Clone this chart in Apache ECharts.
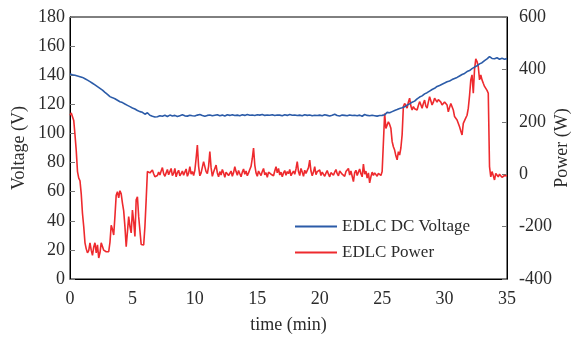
<!DOCTYPE html>
<html>
<head>
<meta charset="utf-8">
<script src="https://cdn.jsdelivr.net/npm/echarts@6/dist/echarts.min.js"></script>
<style>html,body{margin:0;padding:0;background:#fff}#c{width:571px;height:340px}</style>
</head>
<body>
<div id="c"></div>
<script>
// Sampling steps of the recordings (minutes)
const powerStep = 0.1;
const voltageStep = 0.2;
const xTicks = [0, 5, 10, 15, 20, 25, 30, 35];
const leftTicks = [0, 20, 40, 60, 80, 100, 120, 140, 160, 180];
const rightTicks = [-400, -200, 0, 200, 400, 600];
const seriesNames = ['EDLC DC Voltage', 'EDLC Power'];

// EDLC Power (W), every 0.1 min from 0 to 35
const power = [
  225, 234, 228, 205, 150, 90, 10, -15, -25, -75,
  -150, -200, -262, -285, -300, -292, -262, -290, -310, -278,
  -262, -300, -270, -320, -300, -262, -255, -290, -290, -296,
  -296, -296, -260, -195, -210, -232, -160, -80, -67, -90,
  -63, -75, -110, -140, -200, -277, -220, -162, -200, -224,
  -137, -180, -238, -98, -86, -162, -215, -268, -270, -270,
  -200, -98, 10, 8, 5, 5, 16, 2, -10, -8,
  -5, 8, -3, 12, 25, 2, -8, 5, 18, -2,
  10, 22, -5, 3, 22, -10, 6, 15, -6, 2,
  12, -4, 8, 20, -8, 4, 29, 0, 10, -5,
  15, 60, 111, 30, -6, 5, 12, 48, 54, 10,
  2, 30, 86, 25, -8, 8, 3, 35, 5, -10,
  10, -3, 18, 5, -12, 8, 15, -5, 2, 12,
  -8, 6, 29, 10, -4, 14, 2, -10, 8, 20,
  0, 12, -6, 5, 18, 30, 60, 100, 35, 5,
  -8, 12, 3, -5, 10, 22, -2, 6, -12, 8,
  15, 0, 7, -6, 12, 29, 5, 22, -3, 8,
  -10, 5, 14, -4, 10, 2, 18, -6, 4, 12,
  0, 20, 48, 10, -5, 22, 8, -8, 15, 3,
  10, 25, 54, 12, -6, 8, 29, -2, 10, 5,
  16, -5, 8, 12, -8, 4, 14, 0, -10, 6,
  10, -4, 8, 18, 2, -6, 12, 16, 0, 5,
  -8, 10, 4, 22, -3, 12, 10, -28, 6, 15,
  -5, 8, 20, 2, -10, 39, 0, 12, -15, 5,
  -33, -10, 8, -5, 5, 12, -8, 3, 10, -5,
  10, 120, 232, 175, 169, 200, 190, 175, 125, 105,
  92, 70, 55, 86, 73, 100, 150, 258, 270, 262,
  252, 275, 290, 260, 245, 258, 250, 248, 245, 262,
  277, 265, 252, 270, 283, 260, 252, 275, 296, 280,
  264, 275, 290, 283, 275, 285, 283, 275, 264, 270,
  276, 283, 264, 238, 255, 270, 277, 245, 220, 213,
  207, 200, 181, 165, 150, 194, 200, 215, 225, 252,
  300, 360, 379, 309, 400, 440, 430, 410, 360, 379,
  360, 347, 335, 328, 320, 309, 29, -10, 10, -5,
  -22, 3, 5, -10, 0, -3, -12, -16, -5, -10,
  -7
];

// EDLC DC Voltage (V), every 0.2 min from 0 to 35
const voltage = [
  140.8, 140.3, 140.0, 139.5, 139.0, 138.5, 137.6, 136.6, 135.6, 134.5,
  133.4, 132.2, 131.0, 129.8, 128.2, 126.8, 125.3, 124.6, 123.8, 122.8,
  121.8, 121.2, 120.2, 119.3, 118.4, 117.5, 116.8, 115.8, 115.0, 114.5,
  113.2, 114.2, 112.5, 111.8, 111.3, 111.5, 112.2, 111.8, 112.5, 111.6,
  112.6, 112.0, 112.4, 111.6, 112.2, 112.8, 112.1, 111.9, 112.5, 112.2,
  112.0, 112.6, 113.0, 112.3, 111.8, 112.4, 112.7, 112.1, 112.5, 112.9,
  112.2, 112.6, 112.0, 112.8, 112.4, 112.9, 112.3, 112.6, 112.2, 112.8,
  112.4, 113.0, 112.5, 112.7, 112.3, 112.8, 112.6, 113.0, 112.4, 112.7,
  112.5, 112.9, 112.3, 112.7, 112.6, 112.2, 112.8, 112.4, 113.0, 112.5,
  112.7, 112.3, 112.6, 112.2, 112.8, 112.4, 112.7, 112.1, 112.5, 112.3,
  112.6, 112.2, 112.8, 112.4, 112.0, 112.5, 113.2, 112.3, 112.0, 112.6,
  112.4, 112.1, 112.7, 112.3, 112.5, 112.2, 112.6, 111.8, 113.0, 112.4,
  112.1, 112.5, 112.2, 111.9, 112.3, 112.4, 112.8, 114.5, 114.2, 115.0,
  115.8, 116.4, 117.2, 117.6, 118.3, 119.5, 120.3, 121.5, 122.2, 123.8,
  125.0, 125.8, 127.2, 128.0, 129.1, 130.2, 131.0, 132.3, 133.0, 133.8,
  134.6, 135.5, 136.0, 137.0, 137.8, 138.5, 139.5, 140.5, 141.2, 142.5,
  143.2, 144.5, 145.6, 146.5, 147.8, 148.6, 150.0, 151.2, 152.8, 151.5,
  151.3, 152.0, 151.0, 151.6, 151.0, 151.4
];

const font = 'Liberation Serif';
const txt = '#2b2b2b';
const powerData = power.map((v, i) => [+(i * powerStep).toFixed(2), v]);
const voltageData = voltage.map((v, i) => [+(i * voltageStep).toFixed(2), v]);

const chart = echarts.init(document.getElementById('c'), null, {renderer: 'canvas'});
chart.setOption({
  animation: false,
  backgroundColor: '#fff',
  textStyle: {fontFamily: font},
  grid: {left: 70, right: 64, top: 17, bottom: 61, containLabel: false, outerBoundsMode: 'none',
    show: true, borderColor: '#000', borderWidth: 1, backgroundColor: 'transparent'},
  legend: {
    orient: 'vertical', left: 290, top: 213, itemWidth: 42, itemHeight: 2, itemGap: 9,
    icon: 'rect',
    textStyle: {fontFamily: font, fontSize: 17, color: txt},
    data: seriesNames
  },
  xAxis: {
    type: 'value', min: xTicks[0], max: xTicks[xTicks.length - 1], interval: 5,
    name: 'time (min)', nameLocation: 'middle', nameGap: 37, nameMoveOverlap: false,
    nameTextStyle: {fontFamily: font, fontSize: 18, color: txt},
    axisLine: {lineStyle: {color: '#000', width: 1}},
    axisTick: {show: false},
    axisLabel: {fontFamily: font, fontSize: 18, color: txt, margin: 11},
    splitLine: {show: false}
  },
  yAxis: [{
    type: 'value', min: leftTicks[0], max: leftTicks[leftTicks.length - 1], interval: 20,
    name: 'Voltage (V)', nameLocation: 'middle', nameGap: 42, nameRotate: 90, nameMoveOverlap: false,
    nameTextStyle: {fontFamily: font, fontSize: 18, color: txt},
    axisLine: {show: true, lineStyle: {color: '#000', width: 1}},
    axisTick: {show: true, inside: true, length: 5, lineStyle: {color: '#777'}},
    axisLabel: {fontFamily: font, fontSize: 18, color: txt, margin: 5},
    splitLine: {show: false}
  }, {
    type: 'value', position: 'right', min: rightTicks[0], max: rightTicks[rightTicks.length - 1], interval: 200,
    name: 'Power (W)', nameLocation: 'middle', nameGap: 46, nameRotate: 90, nameMoveOverlap: false,
    nameTextStyle: {fontFamily: font, fontSize: 18, color: txt},
    axisLine: {show: true, lineStyle: {color: '#000', width: 1}},
    axisTick: {show: true, inside: true, length: 5, lineStyle: {color: '#777'}},
    axisLabel: {fontFamily: font, fontSize: 18, color: txt, margin: 12},
    splitLine: {show: false}
  }],
  series: [{
    name: seriesNames[0], type: 'line', yAxisIndex: 0, symbol: 'none',
    lineStyle: {color: '#2B5BA8', width: 1.6}, itemStyle: {color: '#2B5BA8'},
    data: voltageData, z: 3
  }, {
    name: seriesNames[1], type: 'line', yAxisIndex: 1, symbol: 'none',
    lineStyle: {color: '#EE2A2E', width: 1.6}, itemStyle: {color: '#EE2A2E'},
    data: powerData, z: 2
  }]
});
</script>
</body>
</html>
